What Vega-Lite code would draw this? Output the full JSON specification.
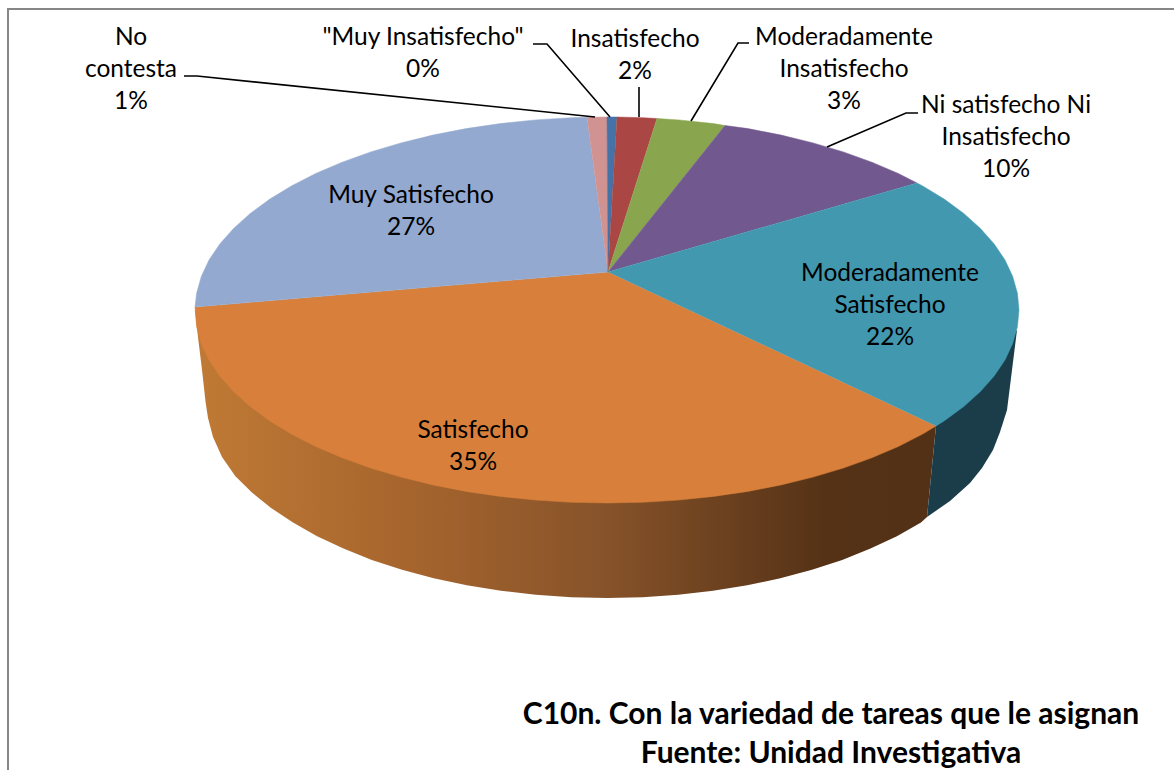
{"$schema":"https://vega.github.io/schema/vega-lite/v6.json","width":1174,"height":770,"padding":0,"autosize":{"type":"none"},"background":"white","view":{"stroke":null},
"datasets":{
"side":[
{"slice":"Moderadamente Satisfecho","i":0,"x":1017,"y":330},{"slice":"Moderadamente Satisfecho","i":1,"x":1012,"y":370},{"slice":"Moderadamente Satisfecho","i":2,"x":1007,"y":410},{"slice":"Moderadamente Satisfecho","i":3,"x":1000,"y":432},{"slice":"Moderadamente Satisfecho","i":4,"x":993,"y":450},{"slice":"Moderadamente Satisfecho","i":5,"x":982,"y":468},{"slice":"Moderadamente Satisfecho","i":6,"x":970,"y":483},{"slice":"Moderadamente Satisfecho","i":7,"x":950,"y":501},{"slice":"Moderadamente Satisfecho","i":8,"x":927,"y":517},{"slice":"Moderadamente Satisfecho","i":9,"x":936,"y":426}
],
"sideOrange":[
{"i":0,"x":936,"y":426},{"i":1,"x":927,"y":517},{"i":2,"x":921,"y":522.6},{"i":3,"x":896.9,"y":536.2},{"i":4,"x":870.5,"y":548.6},{"i":5,"x":842.2,"y":560},{"i":6,"x":812,"y":569.7},{"i":7,"x":780.3,"y":578.2},{"i":8,"x":747.2,"y":585.3},{"i":9,"x":713.1,"y":590.8},{"i":10,"x":678.2,"y":594.8},{"i":11,"x":642.7,"y":597.2},{"i":12,"x":607,"y":598},{"i":13,"x":571.3,"y":597.2},{"i":14,"x":535.8,"y":594.8},{"i":15,"x":500.9,"y":590.8},{"i":16,"x":466.8,"y":585.3},{"i":17,"x":433.7,"y":578.2},{"i":18,"x":402,"y":569.7},{"i":19,"x":371.8,"y":560},{"i":20,"x":343.5,"y":548.6},{"i":21,"x":317.1,"y":536.2},{"i":22,"x":293,"y":522.6},{"i":23,"x":271.1,"y":508},{"i":24,"x":251.9,"y":492.5},{"i":25,"x":235.4,"y":476.2},{"i":26,"x":222,"y":457},{"i":27,"x":213,"y":437},{"i":28,"x":208,"y":418},{"i":29,"x":205.7,"y":403},{"i":30,"x":202,"y":370},{"i":31,"x":198,"y":337},{"i":32,"x":195,"y":310}
],
"top":[
{"slice":"Satisfecho","i":0,"x":608,"y":272},{"slice":"Satisfecho","i":1,"x":936,"y":426},{"slice":"Satisfecho","i":2,"x":922.6,"y":434.1},{"slice":"Satisfecho","i":3,"x":898.3,"y":446.5},{"slice":"Satisfecho","i":4,"x":871.8,"y":457.8},{"slice":"Satisfecho","i":5,"x":843.3,"y":468.1},{"slice":"Satisfecho","i":6,"x":813,"y":477.1},{"slice":"Satisfecho","i":7,"x":781.1,"y":484.9},{"slice":"Satisfecho","i":8,"x":747.9,"y":491.4},{"slice":"Satisfecho","i":9,"x":713.6,"y":496.4},{"slice":"Satisfecho","i":10,"x":678.5,"y":500.1},{"slice":"Satisfecho","i":11,"x":642.9,"y":502.3},{"slice":"Satisfecho","i":12,"x":607,"y":503},{"slice":"Satisfecho","i":13,"x":571.1,"y":502.3},{"slice":"Satisfecho","i":14,"x":535.5,"y":500.1},{"slice":"Satisfecho","i":15,"x":500.4,"y":496.4},{"slice":"Satisfecho","i":16,"x":466.1,"y":491.4},{"slice":"Satisfecho","i":17,"x":432.9,"y":484.9},{"slice":"Satisfecho","i":18,"x":401,"y":477.1},{"slice":"Satisfecho","i":19,"x":370.7,"y":468.1},{"slice":"Satisfecho","i":20,"x":342.2,"y":457.8},{"slice":"Satisfecho","i":21,"x":315.7,"y":446.5},{"slice":"Satisfecho","i":22,"x":291.4,"y":434.1},{"slice":"Satisfecho","i":23,"x":269.5,"y":420.7},{"slice":"Satisfecho","i":24,"x":250.2,"y":406.5},{"slice":"Satisfecho","i":25,"x":233.6,"y":391.6},{"slice":"Satisfecho","i":26,"x":219.8,"y":376},{"slice":"Satisfecho","i":27,"x":209,"y":360},{"slice":"Satisfecho","i":28,"x":201.3,"y":343.5},{"slice":"Satisfecho","i":29,"x":196.6,"y":326.8},{"slice":"Satisfecho","i":30,"x":195,"y":307},
{"slice":"Muy Satisfecho","i":0,"x":608,"y":272},{"slice":"Muy Satisfecho","i":1,"x":195,"y":307},{"slice":"Muy Satisfecho","i":2,"x":196.6,"y":293.2},{"slice":"Muy Satisfecho","i":3,"x":201.3,"y":276.5},{"slice":"Muy Satisfecho","i":4,"x":209,"y":260},{"slice":"Muy Satisfecho","i":5,"x":219.8,"y":244},{"slice":"Muy Satisfecho","i":6,"x":233.6,"y":228.4},{"slice":"Muy Satisfecho","i":7,"x":250.2,"y":213.5},{"slice":"Muy Satisfecho","i":8,"x":269.5,"y":199.3},{"slice":"Muy Satisfecho","i":9,"x":291.4,"y":185.9},{"slice":"Muy Satisfecho","i":10,"x":315.7,"y":173.5},{"slice":"Muy Satisfecho","i":11,"x":342.2,"y":162.2},{"slice":"Muy Satisfecho","i":12,"x":370.7,"y":151.9},{"slice":"Muy Satisfecho","i":13,"x":401,"y":142.9},{"slice":"Muy Satisfecho","i":14,"x":432.9,"y":135.1},{"slice":"Muy Satisfecho","i":15,"x":466.1,"y":128.6},{"slice":"Muy Satisfecho","i":16,"x":500.4,"y":123.6},{"slice":"Muy Satisfecho","i":17,"x":535.5,"y":119.9},{"slice":"Muy Satisfecho","i":18,"x":571.1,"y":117.7},{"slice":"Muy Satisfecho","i":19,"x":587,"y":117.2},
{"slice":"No contesta","i":0,"x":608,"y":272},{"slice":"No contesta","i":1,"x":587,"y":117.2},{"slice":"No contesta","i":2,"x":607,"y":117},
{"slice":"Muy Insatisfecho","i":0,"x":608,"y":272},{"slice":"Muy Insatisfecho","i":1,"x":607,"y":117},{"slice":"Muy Insatisfecho","i":2,"x":617,"y":117},
{"slice":"Insatisfecho","i":0,"x":608,"y":272},{"slice":"Insatisfecho","i":1,"x":617,"y":117},{"slice":"Insatisfecho","i":2,"x":642.9,"y":117.7},{"slice":"Insatisfecho","i":3,"x":657,"y":118.5},
{"slice":"Moderadamente Insatisfecho","i":0,"x":608,"y":272},{"slice":"Moderadamente Insatisfecho","i":1,"x":657,"y":118.5},{"slice":"Moderadamente Insatisfecho","i":2,"x":678.5,"y":119.9},{"slice":"Moderadamente Insatisfecho","i":3,"x":713.6,"y":123.6},{"slice":"Moderadamente Insatisfecho","i":4,"x":725,"y":125.5},
{"slice":"Ni satisfecho Ni Insatisfecho","i":0,"x":608,"y":272},{"slice":"Ni satisfecho Ni Insatisfecho","i":1,"x":725,"y":125.5},{"slice":"Ni satisfecho Ni Insatisfecho","i":2,"x":747.9,"y":128.6},{"slice":"Ni satisfecho Ni Insatisfecho","i":3,"x":781.1,"y":135.1},{"slice":"Ni satisfecho Ni Insatisfecho","i":4,"x":813,"y":142.9},{"slice":"Ni satisfecho Ni Insatisfecho","i":5,"x":843.3,"y":151.9},{"slice":"Ni satisfecho Ni Insatisfecho","i":6,"x":871.8,"y":162.2},{"slice":"Ni satisfecho Ni Insatisfecho","i":7,"x":898.3,"y":173.5},{"slice":"Ni satisfecho Ni Insatisfecho","i":8,"x":917,"y":183},
{"slice":"Moderadamente Satisfecho","i":0,"x":608,"y":272},{"slice":"Moderadamente Satisfecho","i":1,"x":917,"y":183},{"slice":"Moderadamente Satisfecho","i":2,"x":922.6,"y":185.9},{"slice":"Moderadamente Satisfecho","i":3,"x":944.5,"y":199.3},{"slice":"Moderadamente Satisfecho","i":4,"x":963.8,"y":213.5},{"slice":"Moderadamente Satisfecho","i":5,"x":980.4,"y":228.4},{"slice":"Moderadamente Satisfecho","i":6,"x":994.2,"y":244},{"slice":"Moderadamente Satisfecho","i":7,"x":1005,"y":260},{"slice":"Moderadamente Satisfecho","i":8,"x":1012.7,"y":276.5},{"slice":"Moderadamente Satisfecho","i":9,"x":1017.4,"y":293.2},{"slice":"Moderadamente Satisfecho","i":10,"x":1019,"y":310},{"slice":"Moderadamente Satisfecho","i":11,"x":1017.4,"y":326.8},{"slice":"Moderadamente Satisfecho","i":12,"x":1012.7,"y":343.5},{"slice":"Moderadamente Satisfecho","i":13,"x":1005,"y":360},{"slice":"Moderadamente Satisfecho","i":14,"x":994.2,"y":376},{"slice":"Moderadamente Satisfecho","i":15,"x":980.4,"y":391.6},{"slice":"Moderadamente Satisfecho","i":16,"x":963.8,"y":406.5},{"slice":"Moderadamente Satisfecho","i":17,"x":944.5,"y":420.7},{"slice":"Moderadamente Satisfecho","i":18,"x":936,"y":426}
],
"leaders":[
{"to":"No contesta","i":0,"x":184,"y":76},{"to":"No contesta","i":1,"x":197,"y":76},{"to":"No contesta","i":2,"x":595,"y":117},
{"to":"Muy Insatisfecho","i":0,"x":533,"y":44},{"to":"Muy Insatisfecho","i":1,"x":547,"y":44},{"to":"Muy Insatisfecho","i":2,"x":610,"y":117},
{"to":"Insatisfecho","i":0,"x":639,"y":87},{"to":"Insatisfecho","i":1,"x":639,"y":117},
{"to":"Moderadamente Insatisfecho","i":0,"x":749,"y":43},{"to":"Moderadamente Insatisfecho","i":1,"x":738,"y":43},{"to":"Moderadamente Insatisfecho","i":2,"x":691,"y":121},
{"to":"Ni satisfecho Ni Insatisfecho","i":0,"x":918,"y":113},{"to":"Ni satisfecho Ni Insatisfecho","i":1,"x":906,"y":113},{"to":"Ni satisfecho Ni Insatisfecho","i":2,"x":827,"y":147}
],
"frame":[{"i":0,"x":8,"y":770},{"i":1,"x":8,"y":9},{"i":2,"x":1174,"y":9}],
"labels":[
{"label":"No\ncontesta\n1%","x":131,"y":38},
{"label":"\"Muy Insatisfecho\"\n0%","x":423,"y":38},
{"label":"Insatisfecho\n2%","x":635,"y":40},
{"label":"Moderadamente\nInsatisfecho\n3%","x":844,"y":38},
{"label":"Ni satisfecho Ni\nInsatisfecho\n10%","x":1006,"y":106},
{"label":"Muy Satisfecho\n27%","x":411,"y":196},
{"label":"Moderadamente\nSatisfecho\n22%","x":890,"y":274},
{"label":"Satisfecho\n35%","x":473,"y":431}
],
"titles":[{"label":"C10n. Con la variedad de tareas que le asignan\nFuente: Unidad Investigativa","x":831,"y":715}]
},
"encoding":{
"x":{"field":"x","type":"quantitative","scale":{"domain":[0,1174],"nice":false,"zero":false},"axis":null},
"y":{"field":"y","type":"quantitative","scale":{"domain":[770,0],"nice":false,"zero":false},"axis":null}
},
"layer":[
{"data":{"name":"frame"},"mark":{"type":"line","stroke":"#868686","strokeWidth":2},"encoding":{"order":{"field":"i"}}},
{"data":{"name":"sideOrange"},"mark":{"type":"line","strokeWidth":0,"fill":{"gradient":"linear","x1":0,"x2":1,"y1":0,"y2":0,"stops":[{"offset":0,"color":"#c07a35"},{"offset":0.3,"color":"#a5642d"},{"offset":0.55,"color":"#87532a"},{"offset":0.85,"color":"#553216"},{"offset":1,"color":"#523116"}]}},"encoding":{"order":{"field":"i"}}},
{"data":{"name":"side"},"mark":{"type":"line","strokeWidth":0,"fill":"#1b3d49"},"encoding":{"order":{"field":"i"}}},
{"data":{"name":"top"},"mark":{"type":"line","strokeWidth":0.5},"encoding":{"order":{"field":"i"},"detail":{"field":"slice"},
"fill":{"field":"slice","type":"nominal","legend":null,"scale":{"domain":["Satisfecho","Muy Satisfecho","No contesta","Muy Insatisfecho","Insatisfecho","Moderadamente Insatisfecho","Ni satisfecho Ni Insatisfecho","Moderadamente Satisfecho"],"range":["#d8803b","#93a9cf","#d19392","#4572a7","#aa4643","#89a54e","#71588f","#4198af"]}},
"stroke":{"field":"slice","type":"nominal","legend":null,"scale":{"domain":["Satisfecho","Muy Satisfecho","No contesta","Muy Insatisfecho","Insatisfecho","Moderadamente Insatisfecho","Ni satisfecho Ni Insatisfecho","Moderadamente Satisfecho"],"range":["#d8803b","#93a9cf","#d19392","#4572a7","#aa4643","#89a54e","#71588f","#4198af"]}}}},
{"data":{"name":"leaders"},"mark":{"type":"line","stroke":"#000000","strokeWidth":1.6},"encoding":{"order":{"field":"i"},"detail":{"field":"to"}}},
{"data":{"name":"labels"},"mark":{"type":"text","font":"Lato","fontSize":24.5,"lineHeight":32,"lineBreak":"\n","align":"center","baseline":"middle","color":"#000000"},"encoding":{"text":{"field":"label"}}},
{"data":{"name":"titles"},"mark":{"type":"text","font":"Lato","fontSize":30,"fontWeight":"bold","lineHeight":39,"lineBreak":"\n","align":"center","baseline":"middle","color":"#000000"},"encoding":{"text":{"field":"label"}}}
]}
